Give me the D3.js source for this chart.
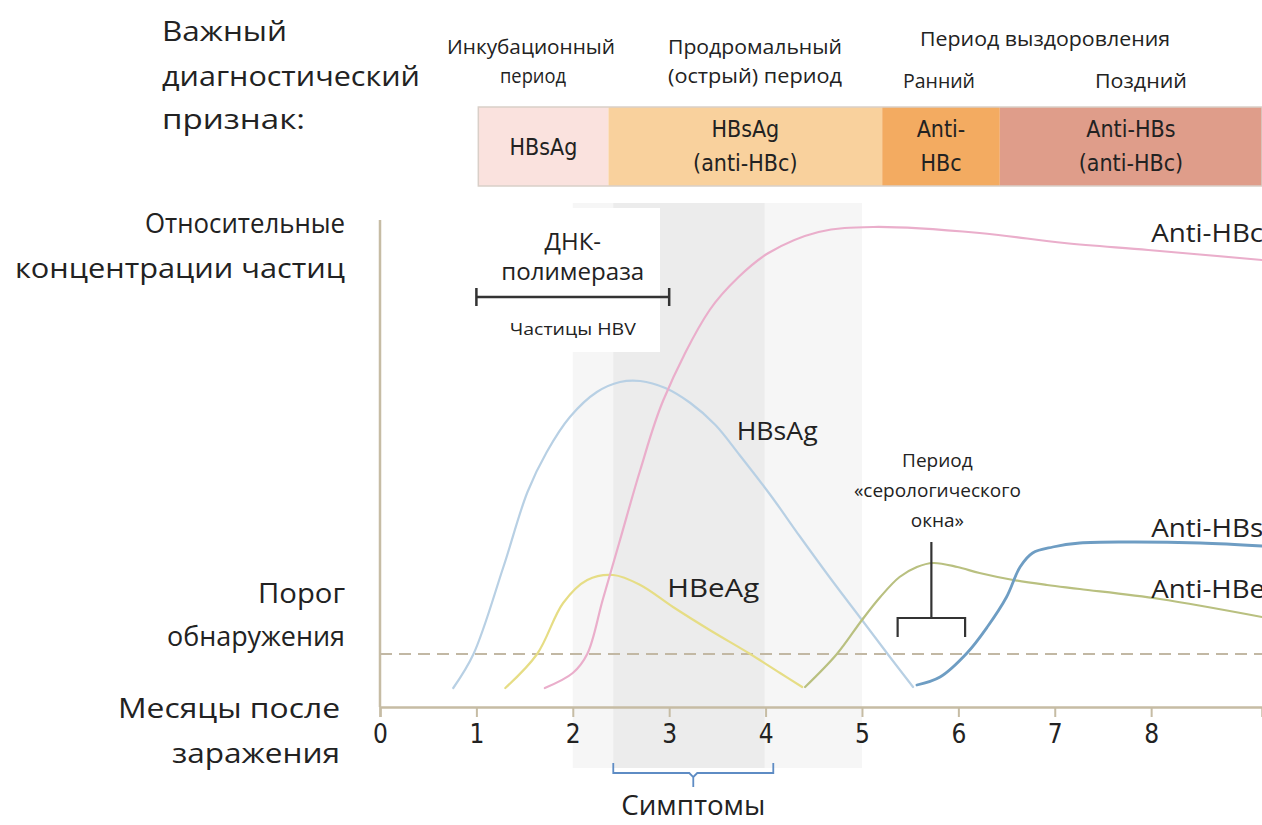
<!DOCTYPE html>
<html><head><meta charset="utf-8">
<script src="https://cdn.jsdelivr.net/npm/d3@7/dist/d3.min.js"></script>
<style>
body{margin:0;background:#fff}
svg{display:block}
text{font-family:'Open Sans',sans-serif;fill:#222}
.cond{font-family:'Liberation Sans Narrow','DejaVu Sans Condensed',sans-serif;font-stretch:condensed}
</style>
</head><body>
<svg id="chart" width="1262" height="825"></svg>
<script>
// ---------- data ----------
const monthTicks = [0, 1, 2, 3, 4, 5, 6, 7, 8];
const thresholdValue = 10.6;
// [month, relative concentration]
const hbsag = [[0.76,3.8],[0.97,10.6],[1.28,28],[1.53,43],[1.73,51],[1.97,58],[2.25,63],[2.49,65],[2.7,65.2],[2.96,63.8],[3.22,60.8],[3.48,56.4],[3.73,50.4],[4.05,42.4],[4.36,34],[4.67,25.8],[5.0,17.4],[5.29,10],[5.53,4]];
const hbeag = [[1.3,3.8],[1.63,10.6],[1.9,20.8],[2.15,25.4],[2.42,26.4],[2.7,24.4],[3.04,20],[3.42,15.4],[3.84,10.6],[4.15,6.8],[4.38,4]];
const antiHBc = [[1.71,3.8],[2.0,6.8],[2.15,10.6],[2.31,21.4],[2.49,33.4],[2.7,47.4],[2.94,61.4],[3.42,79.4],[3.72,86],[4.03,90.8],[4.55,95],[5.12,96],[6.22,94.8],[7.1,92.8],[7.97,91.4],[9.15,89.4]];
const antiHBe = [[4.41,4],[4.74,10.6],[5.0,17.4],[5.19,22],[5.39,26],[5.57,28],[5.74,28.8],[5.99,28],[6.22,26.8],[6.57,25.4],[6.92,24.4],[7.26,23.6],[8.09,21.6],[9.15,18]];
const antiHBs = [[5.57,4.4],[5.81,6],[6.09,10.8],[6.3,16],[6.5,22],[6.64,28],[6.77,30.8],[6.98,32],[7.26,32.8],[7.75,33],[8.51,32.8],[9.15,32.2]];

const phaseBounds = [1.02, 2.37, 5.21, 6.43, 9.15];
const phaseMarkers = [["HBsAg"], ["HBsAg", "(anti-HBc)"], ["Anti-", "HBc"], ["Anti-HBs", "(anti-HBc)"]];
const symptomsRange = [2.42, 4.08];
const acuteShade = [2.0, 5.0];
const dnaRange = [1.0, 3.0];
const windowRange = [5.37, 6.07];

// ---------- styles ----------
const phaseColors = ["#fae2de", "#f9d19d", "#f3ab61", "#df9d8a"];
const curveStyles = [
  {data: hbsag, color: "#b8d0e4", w: 2.2},
  {data: hbeag, color: "#e6dd85", w: 2.2},
  {data: antiHBc, color: "#eaaecb", w: 2.2},
  {data: antiHBe, color: "#b9c080", w: 2.2},
  {data: antiHBs, color: "#6e9dc3", w: 2.8}
];
const axisColor = "#c6bca4";

const svg = d3.select("#chart");
const x = d3.scaleLinear().domain([0, 9.15]).range([380, 1262]);
const y = d3.scaleLinear().domain([0, 100]).range([707, 207]);

function label(t, xx, yy, size, anchor, width, cls) {
  const el = svg.append("text").attr("x", xx).attr("y", yy).attr("text-anchor", anchor || "start")
    .attr("dominant-baseline", "central").attr("font-size", size).text(t);
  if (cls) el.attr("class", cls);
  if (width) el.attr("textLength", width).attr("lengthAdjust", "spacingAndGlyphs");
  return el;
}

// shading
svg.append("rect").attr("x", x(acuteShade[0])).attr("y", 203)
  .attr("width", x(acuteShade[1]) - x(acuteShade[0])).attr("height", 565).attr("fill", "#f6f6f6");
svg.append("rect").attr("x", x(symptomsRange[0])).attr("y", 203)
  .attr("width", x(3.99) - x(symptomsRange[0])).attr("height", 565).attr("fill", "#ececec");

// DNA box
svg.append("rect").attr("x", 470).attr("y", 208).attr("width", 190).attr("height", 144).attr("fill", "#fff");
const dg = svg.append("g").attr("stroke", "#333").attr("stroke-width", 2.5);
dg.append("line").attr("x1", x(dnaRange[0])).attr("x2", x(dnaRange[1])).attr("y1", 297).attr("y2", 297);
dg.append("line").attr("x1", x(dnaRange[0])).attr("x2", x(dnaRange[0])).attr("y1", 288).attr("y2", 306);
dg.append("line").attr("x1", x(dnaRange[1])).attr("x2", x(dnaRange[1])).attr("y1", 288).attr("y2", 306);
const dnaCx = (x(dnaRange[0]) + x(dnaRange[1])) / 2;
label("ДНК-", dnaCx, 240, 24, "middle");
label("полимераза", dnaCx, 270, 24, "middle", 143);
label("Частицы HBV", dnaCx, 328, 17, "middle", 126);

// axes
svg.append("line").attr("x1", 380).attr("x2", 380).attr("y1", 220).attr("y2", 707)
  .attr("stroke", axisColor).attr("stroke-width", 2.5);
const xAxis = svg.append("g").attr("transform", "translate(0,707)")
  .call(d3.axisBottom(x).tickValues(monthTicks).tickSize(10).tickPadding(8).tickFormat(d3.format("d")));
xAxis.select(".domain").attr("stroke", axisColor).attr("stroke-width", 2.5);
xAxis.selectAll(".tick line").attr("stroke", axisColor).attr("stroke-width", 2);
xAxis.selectAll(".tick text").attr("class", "cond").attr("font-size", 26).attr("fill", "#333");

// threshold
svg.append("line").attr("x1", x(0)).attr("x2", x(9.15)).attr("y1", y(thresholdValue)).attr("y2", y(thresholdValue))
  .attr("stroke", "#c2b8a4").attr("stroke-width", 2).attr("stroke-dasharray", "12,7");

// curves
const line = d3.line().x(d => x(d[0])).y(d => y(d[1])).curve(d3.curveCatmullRom.alpha(0.5));
curveStyles.forEach(c => {
  svg.append("path").attr("d", line(c.data)).attr("fill", "none")
    .attr("stroke", c.color).attr("stroke-width", c.w).attr("stroke-linecap", "round");
});

// curve labels
const curveLabels = [["HBsAg", 3.7, 55.4, 81], ["HBeAg", 2.98, 24, 92], ["Anti-HBc", 8.0, 95, 112], ["Anti-HBs", 8.0, 36, 112], ["Anti-HBe", 8.0, 23.8, 114]];
curveLabels.forEach(([t, m, v, w]) => label(t, x(m), y(v), 25, "start", w));

// serological window bracket
const wg = svg.append("g").attr("stroke", "#333").attr("stroke-width", 2.2).attr("fill", "none");
const wMid = (windowRange[0] + windowRange[1]) / 2;
wg.append("path").attr("d", `M${x(windowRange[0])},637V618H${x(windowRange[1])}V637`);
wg.append("line").attr("x1", x(wMid)).attr("x2", x(wMid)).attr("y1", 618).attr("y2", 542);
label("Период", x(wMid) + 6, 460, 19, "middle");
label("«серологического", x(wMid) + 6, 490, 19, "middle");
label("окна»", x(wMid) + 6, 520, 19, "middle");

// symptoms brace
const s0 = x(symptomsRange[0]), s1 = x(symptomsRange[1]), sm = (s0 + s1) / 2;
svg.append("path").attr("d", `M${s0},763V773H${sm - 4}L${sm},777V787M${sm},777L${sm + 4},773H${s1}V763`)
  .attr("fill", "none").attr("stroke", "#5e8cc4").attr("stroke-width", 1.8);
label("Симптомы", sm, 804, 27, "middle", 144);

// phase band
phaseMarkers.forEach((lines, i) => {
  const a = x(phaseBounds[i]), b = x(phaseBounds[i + 1]);
  svg.append("rect").attr("x", a).attr("y", 107).attr("width", b - a).attr("height", 79).attr("fill", phaseColors[i]);
  const cx = (a + b) / 2;
  const ys = lines.length === 1 ? [147] : [129, 163];
  lines.forEach((t, j) => label(t, cx, ys[j], 23, "middle", null, "cond").attr("fill", "#3a2e28"));
});
svg.append("rect").attr("x", x(phaseBounds[0])).attr("y", 107).attr("width", x(phaseBounds[4]) - x(phaseBounds[0])).attr("height", 79)
  .attr("fill", "none").attr("stroke", "#d9cfc8").attr("stroke-width", 1.5);

// header period labels
const headers = [["Инкубационный", 531, 46, 168], ["период", 533, 75, 66], ["Продромальный", 755, 46, 174], ["(острый) период", 755, 75, 174],
  ["Период выздоровления", 1045, 38, 250], ["Ранний", 939, 80, 72], ["Поздний", 1141, 80, 92]];
headers.forEach(([t, xx, yy, w]) => label(t, xx, yy, 20, "middle", w));

// left labels
const leftL = [["Важный", 162, 30, "start", 125], ["диагностический", 162, 75, "start", 258], ["признак:", 162, 118, "start", 143],
  ["Относительные", 345, 222, "end", 200], ["концентрации частиц", 345, 267, "end", 330],
  ["Порог", 345, 592, "end", 87], ["обнаружения", 345, 635, "end", 178],
  ["Месяцы после", 340, 707, "end", 222], ["заражения", 340, 752, "end", 168]];
leftL.forEach(([t, xx, yy, a, w]) => label(t, xx, yy, 28, a, w));
</script>
</body></html>
